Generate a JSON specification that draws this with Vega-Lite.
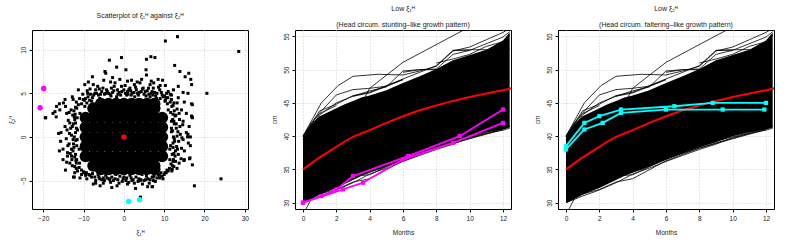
{
"$schema": "https://vega.github.io/schema/vega-lite/v6.json",
"background": "white",
"padding": {"left": 7, "top": 4, "right": 5, "bottom": 2},
"bounds": "flush",
"spacing": 47,
"config": {
  "font": "Liberation Sans",
  "view": {"stroke": "black", "strokeWidth": 1},
  "axis": {"domain": false, "tickColor": "black", "tickSize": 3, "labelFontSize": 6.5, "labelColor": "#222", "titleFontSize": 6.5, "titleFontWeight": "normal", "titleColor": "#222", "gridColor": "#cfcfcf", "gridDash": [1, 2], "labelPadding": 3, "labelOverlap": false, "labelFlush": false},
  "axisY": {"labelAngle": -90, "titlePadding": 6},
  "axisX": {"titlePadding": 8},
  "title": {"fontSize": 7, "fontWeight": "normal", "color": "#222", "subtitleFontSize": 7, "subtitleColor": "#222", "subtitlePadding": 9}
},
"datasets": {
  "core": [
    {"x":-7.6,"y":-3.3},{"x":-5.7,"y":-3.3},{"x":-3.8,"y":-3.3},{"x":-1.9,"y":-3.3},{"x":0,"y":-3.3},{"x":1.9,"y":-3.3},{"x":3.8,"y":-3.3},{"x":5.7,"y":-3.3},{"x":7.6,"y":-3.3},
    {"x":-9.5,"y":-2.2},{"x":-7.6,"y":-2.2},{"x":-5.7,"y":-2.2},{"x":-3.8,"y":-2.2},{"x":-1.9,"y":-2.2},{"x":0,"y":-2.2},{"x":1.9,"y":-2.2},{"x":3.8,"y":-2.2},{"x":5.7,"y":-2.2},{"x":7.6,"y":-2.2},{"x":9.5,"y":-2.2},
    {"x":-9.5,"y":-1.1},{"x":-7.6,"y":-1.1},{"x":-5.7,"y":-1.1},{"x":-3.8,"y":-1.1},{"x":-1.9,"y":-1.1},{"x":0,"y":-1.1},{"x":1.9,"y":-1.1},{"x":3.8,"y":-1.1},{"x":5.7,"y":-1.1},{"x":7.6,"y":-1.1},{"x":9.5,"y":-1.1},
    {"x":-9.5,"y":0},{"x":-7.6,"y":0},{"x":-5.7,"y":0},{"x":-3.8,"y":0},{"x":-1.9,"y":0},{"x":0,"y":0},{"x":1.9,"y":0},{"x":3.8,"y":0},{"x":5.7,"y":0},{"x":7.6,"y":0},{"x":9.5,"y":0},
    {"x":-9.5,"y":1.1},{"x":-7.6,"y":1.1},{"x":-5.7,"y":1.1},{"x":-3.8,"y":1.1},{"x":-1.9,"y":1.1},{"x":0,"y":1.1},{"x":1.9,"y":1.1},{"x":3.8,"y":1.1},{"x":5.7,"y":1.1},{"x":7.6,"y":1.1},{"x":9.5,"y":1.1},
    {"x":-9.5,"y":2.2},{"x":-7.6,"y":2.2},{"x":-5.7,"y":2.2},{"x":-3.8,"y":2.2},{"x":-1.9,"y":2.2},{"x":0,"y":2.2},{"x":1.9,"y":2.2},{"x":3.8,"y":2.2},{"x":5.7,"y":2.2},{"x":7.6,"y":2.2},{"x":9.5,"y":2.2},
    {"x":-7.6,"y":3.3},{"x":-5.7,"y":3.3},{"x":-3.8,"y":3.3},{"x":-1.9,"y":3.3},{"x":0,"y":3.3},{"x":1.9,"y":3.3},{"x":3.8,"y":3.3},{"x":5.7,"y":3.3},{"x":7.6,"y":3.3},
    {"x":-5.7,"y":3.8},{"x":-3.8,"y":3.8},{"x":-1.9,"y":3.8},{"x":0,"y":3.8},{"x":1.9,"y":3.8},{"x":3.8,"y":3.8},{"x":5.7,"y":3.8},{"x":7.6,"y":3.8},
    {"x":-5.7,"y":-3.7},{"x":-3.8,"y":-3.7},{"x":-1.9,"y":-3.7},{"x":0,"y":-3.7},{"x":1.9,"y":-3.7},{"x":3.8,"y":-3.7},{"x":5.7,"y":-3.7},{"x":7.6,"y":-3.7}
  ],
  "pts": [
    {"x":-3.6,"y":8.8},{"x":-0.6,"y":9.1},{"x":5.6,"y":8.9},{"x":6.7,"y":9.2},{"x":7.7,"y":9.1},{"x":12.6,"y":8.2},{"x":0.5,"y":7.7},{"x":-1.8,"y":8.0},{"x":-4.7,"y":7.5},{"x":-4.5,"y":7.3},{"x":-7.8,"y":6.9},{"x":5.5,"y":7.7},{"x":5.6,"y":7.1},{"x":13.9,"y":7.5},{"x":16.1,"y":7.3},{"x":16.6,"y":6.6},{"x":15.2,"y":6.9},{"x":-3.3,"y":6.3},{"x":-2.2,"y":6.2},{"x":1.9,"y":6.5},{"x":3.3,"y":6.3},{"x":8.5,"y":6.6},{"x":9.6,"y":6.5},{"x":13.5,"y":5.8},{"x":16.8,"y":6.0},{"x":-9.7,"y":6.0},{"x":-7.6,"y":6.0},{"x":-6.1,"y":5.5},{"x":-8.4,"y":5.5},{"x":-11.3,"y":5.4},{"x":-0.6,"y":5.8},{"x":4.0,"y":6.2},{"x":6.5,"y":6.0},{"x":7.3,"y":5.6},{"x":10.6,"y":5.0},{"x":11.8,"y":4.8},{"x":14.7,"y":5.1},{"x":15.9,"y":5.0},{"x":-12.8,"y":4.6},{"x":-12.6,"y":4.3},{"x":-14.6,"y":4.3},{"x":-15.0,"y":3.9},{"x":-16.7,"y":3.5},{"x":-17.1,"y":2.9},{"x":-19.4,"y":2.2},{"x":-15.9,"y":3.1},{"x":-14.2,"y":2.7},{"x":16.8,"y":3.8},{"x":16.8,"y":2.4},{"x":15.5,"y":2.7},{"x":14.7,"y":1.8},{"x":17.0,"y":2.2},{"x":13.9,"y":1.2},{"x":15.5,"y":0.5},{"x":14.7,"y":-0.3},{"x":16.0,"y":-0.7},{"x":13.1,"y":-1.1},{"x":14.3,"y":-1.3},{"x":16.4,"y":-2.4},{"x":15.0,"y":-2.6},{"x":13.7,"y":-3.0},{"x":12.2,"y":-2.8},{"x":12.0,"y":-3.7},{"x":8.9,"y":-4.7},{"x":7.3,"y":-5.0},{"x":7.1,"y":-5.7},{"x":4.0,"y":-5.0},{"x":2.3,"y":-4.9},{"x":-1.7,"y":-5.6},{"x":-3.5,"y":-4.9},{"x":-5.1,"y":-4.7},{"x":-7.6,"y":-5.4},{"x":-10.9,"y":-4.7},{"x":-12.3,"y":-4.6},{"x":-12.2,"y":-4.1},{"x":-13.4,"y":-3.0},{"x":-15.1,"y":-2.6},{"x":-14.0,"y":-1.8},{"x":-13.0,"y":-1.4},{"x":-15.1,"y":-1.4},{"x":-15.6,"y":0.5},{"x":-14.1,"y":0.8},{"x":-13.4,"y":1.6},{"x":-12.2,"y":2.0},{"x":-12.7,"y":2.5},{"x":-11.3,"y":3.7},{"x":-10.1,"y":4.3},{"x":-8.9,"y":4.6},{"x":-6.8,"y":5.0},{"x":-4.3,"y":5.4},{"x":-3.1,"y":5.6},{"x":1.5,"y":5.6},{"x":3.1,"y":5.4},{"x":4.8,"y":5.6},{"x":8.9,"y":5.4},{"x":11.8,"y":4.3},{"x":13.2,"y":3.9},{"x":14.3,"y":3.1},{"x":12.7,"y":2.4},{"x":13.2,"y":0.1},{"x":12.7,"y":-2.2},{"x":11.4,"y":-2.6},{"x":10.2,"y":-4.1},{"x":8.5,"y":-4.3},{"x":5.6,"y":-4.5},{"x":0.7,"y":-4.7},{"x":-1.0,"y":-4.5},{"x":-6.4,"y":-4.3},{"x":-9.3,"y":-4.1},{"x":-11.1,"y":-3.5},{"x":-11.7,"y":-2.6},{"x":-11.1,"y":-1.4},{"x":-11.6,"y":-0.3},{"x":-11.5,"y":0.8},{"x":-10.9,"y":2.7},{"x":-9.7,"y":3.5},{"x":-8.0,"y":4.1},{"x":-6.0,"y":4.4},{"x":-1.8,"y":4.6},{"x":0.7,"y":4.8},{"x":2.7,"y":4.6},{"x":6.5,"y":4.6},{"x":8.1,"y":4.4},{"x":10.2,"y":4.1},{"x":11.0,"y":3.1},{"x":11.8,"y":1.8},{"x":11.8,"y":0.6},{"x":12.2,"y":-0.7},{"x":11.4,"y":-1.4},
    {"x":-9.0,"y":5.0},{"x":-7.5,"y":4.8},{"x":-5.5,"y":5.2},{"x":-4.8,"y":4.9},{"x":-3.8,"y":5.0},{"x":-2.5,"y":5.3},{"x":-1.2,"y":5.1},{"x":0,"y":5.4},{"x":0.9,"y":5.2},{"x":2.0,"y":5.0},{"x":3.8,"y":5.1},{"x":5.3,"y":5.2},{"x":6.2,"y":4.9},{"x":7.6,"y":5.1},{"x":9.5,"y":4.8},{"x":10.5,"y":4.5},{"x":-6.5,"y":5.8},{"x":-1.0,"y":6.6},{"x":2.6,"y":6.0},{"x":6.8,"y":6.4},{"x":9.0,"y":5.9},{"x":11.0,"y":5.2},{"x":-9.8,"y":4.2},{"x":-11.0,"y":4.4},
    {"x":-9.5,"y":-4.4},{"x":-8.0,"y":-4.6},{"x":-6.0,"y":-4.8},{"x":-4.5,"y":-4.4},{"x":-3.0,"y":-4.6},{"x":-2.0,"y":-4.3},{"x":0,"y":-4.6},{"x":1.5,"y":-4.4},{"x":3.0,"y":-4.6},{"x":4.5,"y":-4.3},{"x":6.0,"y":-4.8},{"x":7.5,"y":-4.4},{"x":9.5,"y":-4.5},{"x":11.0,"y":-3.9},{"x":-10.0,"y":-4.0},{"x":-11.5,"y":-3.9},{"x":-12.8,"y":-3.3},{"x":-13.0,"y":-2.2},{"x":-12.5,"y":-0.8},{"x":-13.0,"y":0.2},{"x":-12.8,"y":1.2},{"x":-13.6,"y":2.8},{"x":-14.5,"y":3.5},{"x":-16.0,"y":3.8},{"x":-15.7,"y":-0.5},{"x":-14.0,"y":-2.2},{"x":-14.5,"y":-3.8},{"x":-16.0,"y":-1.6},
    {"x":12.5,"y":3.0},{"x":13.0,"y":1.0},{"x":12.8,"y":-1.6},{"x":13.5,"y":-2.0},{"x":14.0,"y":0.3},{"x":15.0,"y":-1.6},{"x":15.8,"y":0.0},{"x":16.2,"y":1.2},{"x":17.0,"y":-3.2},{"x":12.4,"y":-3.4},{"x":11.5,"y":4.0},{"x":12.2,"y":3.6},{"x":13.5,"y":4.5},{"x":15.0,"y":4.0},{"x":16.5,"y":-1.0},
    {"x":28.5,"y":9.8},{"x":13.3,"y":11.5},{"x":10.3,"y":11.0},{"x":20.6,"y":5.0},{"x":24.1,"y":-4.8},{"x":17.5,"y":-5.6},{"x":4.1,"y":-6.9},{"x":-19.5,"y":2.2},{"x":-17.6,"y":2.7},{"x":-16.8,"y":2.3},{"x":16.5,"y":0.0},{"x":15.9,"y":0.3},{"x":16.9,"y":2.3},{"x":17.0,"y":3.7},{"x":16.3,"y":-2.5},{"x":14.9,"y":-2.7},{"x":7.0,"y":-5.7},{"x":-7.0,"y":-5.3},{"x":-12.5,"y":-4.6},{"x":-16.2,"y":0.4},
    {"x":-11.8,"y":-3.0},{"x":-12.0,"y":-2.0},{"x":-11.7,"y":-1.0},{"x":-12.3,"y":0.0},{"x":-11.8,"y":1.0},{"x":-12.0,"y":1.6},{"x":-11.6,"y":2.2},{"x":-12.4,"y":3.0},{"x":-11.9,"y":-0.4},{"x":-12.6,"y":-1.6},{"x":-12.1,"y":2.6},{"x":-11.7,"y":3.3},
    {"x":11.7,"y":-3.1},{"x":12.0,"y":-2.0},{"x":11.6,"y":-1.0},{"x":12.3,"y":0.0},{"x":11.8,"y":1.0},{"x":12.1,"y":2.0},{"x":11.6,"y":2.8},{"x":12.5,"y":1.5},{"x":12.6,"y":-0.5},{"x":11.9,"y":3.5},{"x":12.9,"y":2.5},{"x":12.3,"y":-2.6},
    {"x":-9.5,"y":4.4},{"x":-8.5,"y":4.2},{"x":-7.8,"y":4.5},{"x":-7.2,"y":5.0},{"x":-5.8,"y":4.9},{"x":-4.5,"y":5.0},{"x":-3.4,"y":4.9},{"x":-2.8,"y":5.1},{"x":-1.5,"y":4.9},{"x":-0.5,"y":5.2},{"x":0.4,"y":5.0},{"x":1.2,"y":5.4},{"x":1.8,"y":4.8},{"x":2.5,"y":5.1},{"x":3.4,"y":5.0},{"x":4.3,"y":5.2},{"x":5.0,"y":4.9},{"x":5.8,"y":5.3},{"x":6.8,"y":5.0},{"x":7.2,"y":4.8},{"x":8.2,"y":5.0},{"x":9.0,"y":4.4},{"x":9.8,"y":4.6},{"x":10.3,"y":4.2},{"x":10.8,"y":3.8},{"x":-10.5,"y":3.8},{"x":-9.2,"y":3.9},
    {"x":-10.5,"y":-3.8},{"x":-9.8,"y":-4.1},{"x":-8.7,"y":-4.3},{"x":-7.8,"y":-4.2},{"x":-7.2,"y":-4.6},{"x":-5.5,"y":-4.9},{"x":-4.8,"y":-5.0},{"x":-3.7,"y":-4.8},{"x":-2.6,"y":-5.0},{"x":-1.5,"y":-4.9},{"x":-0.4,"y":-5.1},{"x":0.5,"y":-5.0},{"x":1.2,"y":-5.2},{"x":2.0,"y":-5.0},{"x":3.5,"y":-5.1},{"x":4.2,"y":-4.9},{"x":5.0,"y":-5.0},{"x":6.5,"y":-4.9},{"x":7.3,"y":-4.6},{"x":8.2,"y":-4.7},{"x":9.2,"y":-4.1},{"x":10.0,"y":-4.3},{"x":10.7,"y":-3.8},{"x":-11.0,"y":-3.0},
    {"x":-10.2,"y":4.9},{"x":-9.1,"y":5.3},{"x":-8.3,"y":4.9},{"x":-7.0,"y":5.4},{"x":-6.3,"y":4.8},{"x":-5.2,"y":5.6},{"x":-4.1,"y":5.2},{"x":-3.2,"y":4.7},{"x":-2.4,"y":5.8},{"x":-1.6,"y":5.4},{"x":-0.8,"y":4.8},{"x":0.3,"y":5.9},{"x":1.0,"y":4.9},{"x":1.7,"y":5.3},{"x":2.9,"y":5.7},{"x":3.6,"y":4.8},{"x":4.6,"y":5.5},{"x":5.5,"y":4.7},{"x":6.1,"y":5.6},{"x":7.0,"y":5.2},{"x":7.9,"y":4.7},{"x":8.6,"y":5.7},{"x":9.3,"y":5.1},{"x":10.1,"y":4.7},{"x":10.9,"y":4.5},{"x":11.5,"y":4.9},{"x":-8.8,"y":6.3},{"x":-5.0,"y":6.5},{"x":-2.8,"y":6.8},{"x":0.9,"y":6.4},{"x":4.4,"y":6.6},{"x":7.4,"y":6.2},{"x":10.3,"y":5.9},{"x":12.3,"y":5.4},
    {"x":-10.5,"y":-4.3},{"x":-9.2,"y":-4.8},{"x":-8.4,"y":-4.4},{"x":-7.0,"y":-5.0},{"x":-6.2,"y":-4.6},{"x":-5.1,"y":-5.3},{"x":-4.2,"y":-4.7},{"x":-3.3,"y":-5.2},{"x":-2.2,"y":-4.8},{"x":-1.2,"y":-5.3},{"x":-0.2,"y":-4.8},{"x":0.9,"y":-5.4},{"x":1.8,"y":-4.7},{"x":2.6,"y":-5.3},{"x":3.7,"y":-4.8},{"x":4.6,"y":-5.4},{"x":5.4,"y":-4.9},{"x":6.3,"y":-5.3},{"x":7.0,"y":-4.6},{"x":7.8,"y":-5.1},{"x":8.8,"y":-4.4},{"x":9.7,"y":-4.8},{"x":10.5,"y":-4.1},{"x":11.3,"y":-3.6},{"x":-11.8,"y":-3.6},{"x":-3.0,"y":-5.8},{"x":2.9,"y":-5.9},{"x":5.9,"y":-5.7},{"x":-5.9,"y":-5.6},
    {"x":-12.2,"y":-3.4},{"x":-12.9,"y":-2.6},{"x":-12.2,"y":-2.3},{"x":-13.3,"y":-1.9},{"x":-12.4,"y":-1.2},{"x":-13.6,"y":-0.8},{"x":-12.6,"y":-0.3},{"x":-13.5,"y":0.4},{"x":-12.0,"y":0.5},{"x":-13.2,"y":1.0},{"x":-12.5,"y":1.5},{"x":-13.8,"y":1.9},{"x":-12.3,"y":2.3},{"x":-13.1,"y":3.1},{"x":-12.0,"y":3.4},{"x":-14.3,"y":-0.2},{"x":-14.6,"y":1.2},{"x":-14.2,"y":-2.9},{"x":-13.9,"y":-1.0},{"x":-11.9,"y":-2.7},{"x":-11.8,"y":4.0},
    {"x":12.1,"y":-3.3},{"x":12.8,"y":-2.8},{"x":12.4,"y":-1.9},{"x":13.3,"y":-1.4},{"x":12.2,"y":-1.2},{"x":13.6,"y":-0.5},{"x":12.5,"y":-0.2},{"x":13.4,"y":0.6},{"x":12.1,"y":0.7},{"x":13.0,"y":1.5},{"x":12.4,"y":1.8},{"x":13.8,"y":2.0},{"x":12.2,"y":2.6},{"x":13.2,"y":3.2},{"x":12.4,"y":3.9},{"x":14.4,"y":-0.1},{"x":14.6,"y":1.4},{"x":14.2,"y":-2.5},{"x":13.7,"y":2.7},{"x":11.9,"y":-3.9},{"x":13.2,"y":-3.6}
  ],
  "special": [
    {"x":0,"y":0,"group":"mean"},
    {"x":-19.9,"y":5.55,"group":"stunting"},{"x":-20.8,"y":3.35,"group":"stunting"},
    {"x":1.2,"y":-7.4,"group":"faltering"},{"x":3.9,"y":-7.2,"group":"faltering"}
  ],
  "band": [
    {"month":0,"cm":30.0,"cm2":40.0},{"month":0.5,"cm":30.6,"cm2":41.8},{"month":1,"cm":31.2,"cm2":43.0},{"month":1.5,"cm":31.7,"cm2":43.6},{"month":2,"cm":32.2,"cm2":44.2},{"month":2.5,"cm":32.8,"cm2":44.8},{"month":3,"cm":33.4,"cm2":45.3},{"month":3.5,"cm":34.0,"cm2":45.8},{"month":4,"cm":34.5,"cm2":46.1},{"month":5,"cm":35.4,"cm2":46.9},{"month":6,"cm":36.4,"cm2":48.0},{"month":7,"cm":37.4,"cm2":49.0},{"month":8,"cm":38.3,"cm2":50.1},{"month":9,"cm":39.1,"cm2":51.4},{"month":10,"cm":40.0,"cm2":52.2},{"month":11,"cm":40.6,"cm2":53.0},{"month":12,"cm":41.0,"cm2":54.4},{"month":12.4,"cm":41.3,"cm2":55.6}
  ],
  "traj": [
    {"id":"a","month":0,"cm":40},{"id":"a","month":1.1,"cm":45},{"id":"a","month":2.1,"cm":47.6},{"id":"a","month":3,"cm":49},{"id":"a","month":4.5,"cm":49.3},{"id":"a","month":6,"cm":49.2},{"id":"a","month":7,"cm":49.8},{"id":"a","month":8,"cm":50.5},
    {"id":"b","month":0,"cm":40},{"id":"b","month":1,"cm":43.5},{"id":"b","month":2,"cm":46.2},{"id":"b","month":3,"cm":47},{"id":"b","month":4,"cm":47.2},{"id":"b","month":5,"cm":47.5},{"id":"b","month":6,"cm":48.5},
    {"id":"c","month":0,"cm":39.5},{"id":"c","month":1,"cm":43.2},{"id":"c","month":2,"cm":45},{"id":"c","month":3,"cm":46},{"id":"c","month":4,"cm":46.5},{"id":"c","month":6,"cm":48.5},
    {"id":"d","month":0,"cm":28.2},{"id":"d","month":4,"cm":47.2},{"id":"d","month":6,"cm":51.1},{"id":"d","month":9.6,"cm":55.9},{"id":"d","month":10,"cm":56.5},
    {"id":"e","month":8,"cm":50.5},{"id":"e","month":9,"cm":52.8},{"id":"e","month":10,"cm":53.4},{"id":"e","month":11,"cm":54.5},{"id":"e","month":12,"cm":55.6},{"id":"e","month":12.4,"cm":56.2},
    {"id":"f","month":9,"cm":52.9},{"id":"f","month":10,"cm":53},{"id":"f","month":11,"cm":53},{"id":"f","month":12.4,"cm":53.2},
    {"id":"g","month":6,"cm":49.6},{"id":"g","month":7,"cm":50},{"id":"g","month":8,"cm":50.1},{"id":"g","month":9,"cm":52.3},{"id":"g","month":10,"cm":52.9},{"id":"g","month":12,"cm":54.9},{"id":"g","month":12.4,"cm":55.7},
    {"id":"h","month":0,"cm":30.0},{"id":"h","month":1,"cm":31.3},{"id":"h","month":2,"cm":32},{"id":"h","month":3,"cm":33.1},{"id":"h","month":4,"cm":33.6},{"id":"h","month":6,"cm":36.3},{"id":"h","month":8,"cm":38.2},{"id":"h","month":10,"cm":39.6},{"id":"h","month":12,"cm":41},
    {"id":"i","month":0,"cm":30.2},{"id":"i","month":1,"cm":31.5},{"id":"i","month":2,"cm":32.5},{"id":"i","month":3,"cm":34.0},{"id":"i","month":4,"cm":34.2},{"id":"i","month":6,"cm":36.6},{"id":"i","month":9,"cm":39.0},{"id":"i","month":11,"cm":40.4},{"id":"i","month":12.4,"cm":41.4},
    {"id":"j","month":0,"cm":31},{"id":"j","month":2,"cm":33},{"id":"j","month":3,"cm":34.4},{"id":"j","month":4.5,"cm":35},{"id":"j","month":6,"cm":36.8},{"id":"j","month":8,"cm":38.5},
    {"id":"k","month":9,"cm":39.3},{"id":"k","month":10,"cm":39.9},{"id":"k","month":12,"cm":41.2},{"id":"k","month":12.4,"cm":41.5},
    {"id":"l","month":0,"cm":40},{"id":"l","month":1,"cm":43.8},{"id":"l","month":2,"cm":44.8},{"id":"l","month":3,"cm":46.1},{"id":"l","month":4,"cm":46.6},{"id":"l","month":6,"cm":48.6},{"id":"l","month":8,"cm":50.6},{"id":"l","month":9,"cm":52.9},{"id":"l","month":10,"cm":52.9},
    {"id":"m","month":3,"cm":46},{"id":"m","month":4,"cm":46.8},{"id":"m","month":5,"cm":47.4},{"id":"m","month":6,"cm":49.8},{"id":"m","month":7,"cm":50},{"id":"m","month":8,"cm":50},
    {"id":"n","month":8,"cm":51},{"id":"n","month":9,"cm":51.6},{"id":"n","month":10,"cm":52.3},{"id":"n","month":11,"cm":53.5},{"id":"n","month":12,"cm":54.2},{"id":"n","month":12.4,"cm":55.2},
    {"id":"o","month":0,"cm":40},{"id":"o","month":0.5,"cm":42},{"id":"o","month":1,"cm":43.4},{"id":"o","month":2,"cm":44.6},
    {"id":"p","month":0,"cm":30},{"id":"p","month":1,"cm":31.0},{"id":"p","month":2,"cm":31.9},{"id":"p","month":3,"cm":33.0},{"id":"p","month":4,"cm":34.3},{"id":"p","month":5,"cm":35.2},{"id":"p","month":6,"cm":36.2},{"id":"p","month":7,"cm":37.1},{"id":"p","month":8,"cm":38.0},{"id":"p","month":9,"cm":38.8},{"id":"p","month":10,"cm":39.8},{"id":"p","month":11,"cm":40.4},{"id":"p","month":12,"cm":40.9},{"id":"p","month":12.4,"cm":41.2},
    {"id":"q","month":10,"cm":40.1},{"id":"q","month":11,"cm":40.9},{"id":"q","month":12,"cm":41.4},{"id":"q","month":12.4,"cm":41.6}
  ],
  "mean": [
    {"month":0,"cm":35.0},{"month":0.5,"cm":35.9},{"month":1,"cm":36.8},{"month":1.5,"cm":37.6},{"month":2,"cm":38.4},{"month":2.5,"cm":39.2},{"month":3,"cm":39.9},{"month":3.5,"cm":40.4},{"month":4,"cm":40.9},{"month":5,"cm":42.0},{"month":6,"cm":43.0},{"month":7,"cm":43.9},{"month":8,"cm":44.6},{"month":9,"cm":45.3},{"month":10,"cm":45.9},{"month":11,"cm":46.4},{"month":12,"cm":46.9},{"month":12.5,"cm":47.2}
  ],
  "stunting": [
    {"id":"A","month":0,"cm":30},{"id":"A","month":1.1,"cm":31},{"id":"A","month":2.0,"cm":32},{"id":"A","month":3.0,"cm":34},{"id":"A","month":6.3,"cm":37},{"id":"A","month":9.4,"cm":40},{"id":"A","month":12,"cm":44},
    {"id":"B","month":0,"cm":30},{"id":"B","month":2.4,"cm":32},{"id":"B","month":3.6,"cm":33},{"id":"B","month":6.0,"cm":36.5},{"id":"B","month":9.0,"cm":39},{"id":"B","month":12,"cm":42}
  ],
  "faltering": [
    {"id":"A","month":0,"cm":38.5},{"id":"A","month":1.1,"cm":42},{"id":"A","month":2.0,"cm":43},{"id":"A","month":3.3,"cm":44},{"id":"A","month":6.5,"cm":44.5},{"id":"A","month":8.8,"cm":45},{"id":"A","month":12,"cm":45},
    {"id":"B","month":0,"cm":38},{"id":"B","month":1.1,"cm":41},{"id":"B","month":2.2,"cm":42},{"id":"B","month":3.3,"cm":43.5},{"id":"B","month":6.0,"cm":44},{"id":"B","month":9.4,"cm":44},{"id":"B","month":11.9,"cm":44}
  ]
},
"hconcat": [
  {
    "width": 216, "height": 179,
    "title": {"text": "Scatterplot of ξ₁ᴴ against ξ₂ᴴ", "offset": 11},
    "encoding": {
      "x": {"field": "x", "type": "quantitative", "scale": {"domain": [-22.8, 30.8], "nice": false, "zero": false}, "axis": {"values": [-20, -10, 0, 10, 20, 30], "title": "ξ₁ᴴ", "labelOverlap": false}},
      "y": {"field": "y", "type": "quantitative", "scale": {"domain": [-8.26, 12.26], "nice": false, "zero": false}, "axis": {"values": [-5, 0, 5, 10], "title": "ξ₂ᴴ", "labelOverlap": false}}
    },
    "layer": [
      {"data": {"name": "core"}, "mark": {"type": "circle", "size": 145, "color": "black", "opacity": 1}},
      {"data": {"name": "pts"}, "mark": {"type": "square", "size": 9, "color": "black", "opacity": 1}},
      {"data": {"name": "special"}, "mark": {"type": "circle", "size": 30, "opacity": 1},
       "encoding": {"color": {"field": "group", "type": "nominal", "scale": {"domain": ["mean", "stunting", "faltering"], "range": ["#FF0000", "#FF00FF", "#00FFFF"]}, "legend": null}}}
    ]
  },
  {
    "width": 216, "height": 179,
    "title": {"text": "Low ξ₁ᴴ", "subtitle": "(Head circum. stunting–like growth pattern)", "offset": 2},
    "encoding": {
      "x": {"field": "month", "type": "quantitative", "scale": {"domain": [-0.48, 12.48], "nice": false, "zero": false}, "axis": {"values": [0, 2, 4, 6, 8, 10, 12], "title": "Months", "labelOverlap": false}},
      "y": {"field": "cm", "type": "quantitative", "scale": {"domain": [29.05, 55.96], "nice": false, "zero": false}, "axis": {"values": [30, 35, 40, 45, 50, 55], "title": "cm", "labelOverlap": false}}
    },
    "layer": [
      {"data": {"name": "band"}, "mark": {"type": "area", "color": "black", "opacity": 1, "clip": true}, "encoding": {"y2": {"field": "cm2"}}},
      {"data": {"name": "traj"}, "mark": {"type": "line", "color": "black", "strokeWidth": 0.8, "clip": true}, "encoding": {"detail": {"field": "id", "type": "nominal"}}},
      {"data": {"name": "mean"}, "mark": {"type": "line", "color": "#FF0000", "strokeWidth": 2, "clip": true}, "encoding": {}},
      {"data": {"name": "stunting"}, "mark": {"type": "line", "color": "#FF00FF", "strokeWidth": 1.8, "point": {"shape": "square", "size": 18, "color": "#FF00FF", "filled": true, "opacity": 1}}, "encoding": {"detail": {"field": "id", "type": "nominal"}}}
    ]
  },
  {
    "width": 216, "height": 179,
    "title": {"text": "Low ξ₂ᴴ", "subtitle": "(Head circum. faltering–like growth pattern)", "offset": 2},
    "encoding": {
      "x": {"field": "month", "type": "quantitative", "scale": {"domain": [-0.48, 12.48], "nice": false, "zero": false}, "axis": {"values": [0, 2, 4, 6, 8, 10, 12], "title": "Months", "labelOverlap": false}},
      "y": {"field": "cm", "type": "quantitative", "scale": {"domain": [29.05, 55.96], "nice": false, "zero": false}, "axis": {"values": [30, 35, 40, 45, 50, 55], "title": "cm", "labelOverlap": false}}
    },
    "layer": [
      {"data": {"name": "band"}, "mark": {"type": "area", "color": "black", "opacity": 1, "clip": true}, "encoding": {"y2": {"field": "cm2"}}},
      {"data": {"name": "traj"}, "mark": {"type": "line", "color": "black", "strokeWidth": 0.8, "clip": true}, "encoding": {"detail": {"field": "id", "type": "nominal"}}},
      {"data": {"name": "mean"}, "mark": {"type": "line", "color": "#FF0000", "strokeWidth": 2, "clip": true}, "encoding": {}},
      {"data": {"name": "faltering"}, "mark": {"type": "line", "color": "#00FFFF", "strokeWidth": 1.8, "point": {"shape": "square", "size": 18, "color": "#00FFFF", "filled": true, "opacity": 1}}, "encoding": {"detail": {"field": "id", "type": "nominal"}}}
    ]
  }
]
}
